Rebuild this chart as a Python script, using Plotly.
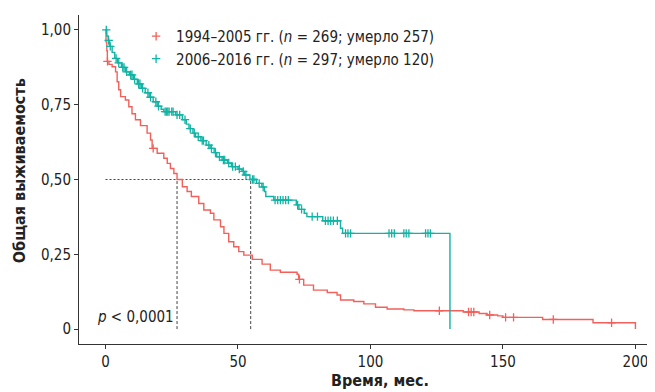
import plotly.graph_objects as go

# ---- data ----
red_name = "1994–2005 гг. (<i>n</i> = 269; умерло 257)"
teal_name = "2006–2016 гг. (<i>n</i> = 297; умерло 120)"

red_t = [0, 0.2, 0.5, 0.7, 1.3, 2.5, 3.8, 4.4, 5.0, 5.7, 7.5, 8.8, 10.0, 11.3, 13.2,
         15.7, 17.0, 17.6, 19.5, 22.0, 23.3, 24.5, 25.8, 27.0, 29.0, 30.8, 32.4, 35.2,
         37.1, 39.6, 40.9, 43.4, 44.7, 46.5, 48.4, 50.3, 52.2, 55.4, 59.1, 62.2, 66.0,
         72.3, 72.9, 74.8, 78.5, 83.7, 87.4, 88.7, 93.7, 97.5, 101.9, 106.3, 112.6,
         116.4, 135.0, 141.0, 144.0, 148.0, 150.0, 165.0, 184.0, 200.0]
red_s = [1.0, 0.96, 0.93, 0.895, 0.885, 0.877, 0.86, 0.827, 0.80, 0.777, 0.766, 0.743,
         0.72, 0.70, 0.68, 0.655, 0.632, 0.604, 0.588, 0.571, 0.554, 0.537, 0.52, 0.50,
         0.476, 0.46, 0.443, 0.42, 0.398, 0.387, 0.365, 0.342, 0.32, 0.292, 0.275, 0.259,
         0.247, 0.233, 0.217, 0.197, 0.19, 0.183, 0.166, 0.147, 0.13, 0.122, 0.114,
         0.097, 0.092, 0.084, 0.073, 0.067, 0.064, 0.061, 0.057, 0.052, 0.047, 0.044,
         0.039, 0.032, 0.021, 0.0]
red_cens = [0.75, 18, 73.2, 126, 137, 138, 139, 145, 151, 154, 169, 191]

teal_t = [0, 0.5, 1, 1.5, 2.5, 3.5, 4.5, 6, 7.5, 9, 10.5, 12, 13.5, 15, 16.5, 18, 19.5,
          21, 22, 26.5, 29, 30.5, 31.5, 33, 34, 36, 38, 39.5, 41, 42, 44, 46, 47.5, 50,
          51.5, 52.5, 54.5, 57, 59, 60, 60.5, 63.5, 72, 73, 75, 76, 82, 88.7, 89.5, 130]
teal_s = [1.0, 0.98, 0.965, 0.945, 0.925, 0.905, 0.89, 0.875, 0.86, 0.85, 0.835, 0.82,
          0.805, 0.79, 0.775, 0.76, 0.745, 0.735, 0.727, 0.716, 0.70, 0.685, 0.67, 0.655,
          0.643, 0.63, 0.615, 0.604, 0.59, 0.576, 0.565, 0.555, 0.543, 0.535, 0.527,
          0.515, 0.50, 0.487, 0.475, 0.46, 0.443, 0.431, 0.415, 0.40, 0.387, 0.376,
          0.362, 0.337, 0.32, 0.0]
teal_cens = [0.3, 1.2, 1.8, 4, 5, 6.5, 7, 8, 9.5, 10, 11, 12.5, 13, 14, 16, 17, 19, 20,
             22.5, 23, 23.5, 24, 25, 25.5, 27, 28, 30, 32, 33.5, 35, 36.5, 37, 39, 40,
             41.5, 43, 44.5, 45, 46.5, 48, 49, 50.5, 52, 53, 55.5, 56, 58, 59.5, 64,
             65, 66, 67, 68, 69, 72.5, 74, 78, 80, 83, 84, 85, 86, 87.5, 90.6, 91.5,
             92.5, 107, 108, 109, 112.6, 113.5, 114.5, 120.8, 121.7, 122.6]

median_red = 27.0
median_teal = 54.8

x_ticks = [0, 50, 100, 150, 200]
y_ticks = [0, 0.25, 0.5, 0.75, 1.0]
y_ticktext = ["0", "0,25", "0,50", "0,75", "1,00"]

RED = "#F2605B"
TEAL = "#12B3A4"
FONT = "DejaVu Sans Condensed, Liberation Sans Narrow, sans-serif"


def step_at(ts, ss, t):
    val = ss[0]
    for ti, si in zip(ts, ss):
        if ti <= t:
            val = si
    return val


fig = go.Figure()

# median guide lines
fig.add_trace(go.Scatter(x=[0, median_teal], y=[0.5, 0.5], mode="lines",
                         line=dict(color="#444", width=1, dash="2px,2px"),
                         showlegend=False, hoverinfo="skip"))
for m in (median_red, median_teal):
    fig.add_trace(go.Scatter(x=[m, m], y=[0, 0.5], mode="lines",
                             line=dict(color="#444", width=1, dash="3px,2px"),
                             showlegend=False, hoverinfo="skip"))

for ts, ss, cens, col, name in ((red_t, red_s, red_cens, RED, red_name),
                                (teal_t, teal_s, teal_cens, TEAL, teal_name)):
    fig.add_trace(go.Scatter(x=ts, y=ss, mode="lines", line=dict(color=col, width=1.4, shape="hv"),
                             showlegend=False, hoverinfo="skip"))
    fig.add_trace(go.Scatter(x=cens, y=[step_at(ts, ss, c) for c in cens], mode="markers",
                             marker=dict(symbol="cross-thin", size=6, line=dict(color=col, width=1.3)),
                             name=name, showlegend=True))

fig.add_annotation(x=-3.8, y=0.04, xref="x", yref="y", text="<i>p</i> < 0,0001",
                   showarrow=False, xanchor="left", yanchor="middle",
                   font=dict(family=FONT, size=15, color="#222"))
fig.add_annotation(x=-0.103, y=0.526, xref="paper", yref="paper", text="<b>Общая выживаемость</b>",
                   textangle=-90, showarrow=False, xanchor="center", yanchor="middle",
                   font=dict(family=FONT, size=16, color="#222"))
fig.add_annotation(x=0.527, y=-0.112, xref="paper", yref="paper", text="<b>Время, мес.</b>",
                   showarrow=False, xanchor="center", yanchor="middle",
                   font=dict(family=FONT, size=16, color="#222"))

# page body adds an 8px offset at top-left, so figure is 8px smaller and l/t margins shifted
fig.update_layout(
    width=647, height=384,
    margin=dict(l=71, r=5, t=7, b=48),
    paper_bgcolor="white", plot_bgcolor="white",
    font=dict(family=FONT, size=15, color="#222"),
    legend=dict(x=0.1, y=0.985, xanchor="left", yanchor="top", bgcolor="rgba(0,0,0,0)",
                font=dict(family=FONT, size=15, color="#222"), tracegroupgap=0,
                itemwidth=30),
    xaxis=dict(range=[-10, 205.5], tickvals=x_ticks, showgrid=False, zeroline=False,
               showline=True, linecolor="#333", linewidth=1, ticks="outside", ticklen=4,
               tickcolor="#333", tickfont=dict(family=FONT, size=15, color="#222")),
    yaxis=dict(range=[-0.05, 1.05], tickvals=y_ticks, ticktext=y_ticktext, showgrid=False,
               zeroline=False, showline=True, linecolor="#333", linewidth=1, ticks="outside",
               ticklen=4, tickcolor="#333", tickfont=dict(family=FONT, size=15, color="#222")),
)

fig.write_html("out.html")
